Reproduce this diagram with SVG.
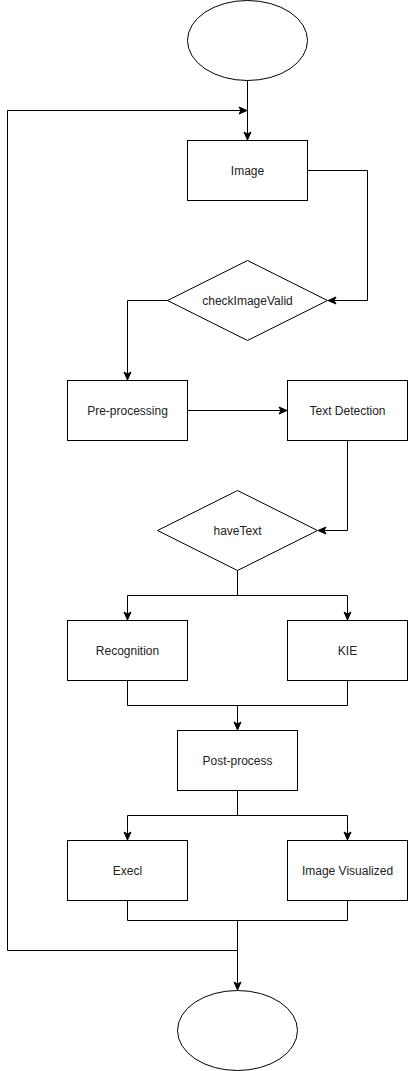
<svg xmlns="http://www.w3.org/2000/svg" width="408" height="1071" viewBox="0 0 408 1071">
<style>
.n{fill:#fff;stroke:#000;stroke-width:1}
.t{font-family:"Liberation Sans",Arial,sans-serif;font-size:12px;fill:#222;text-anchor:middle;dominant-baseline:central}
.c{fill:none;stroke:#000;stroke-width:1}
</style>
<defs>
<marker id="a" viewBox="0 0 10 10" markerWidth="10" markerHeight="10" refX="9" refY="5" orient="auto" markerUnits="userSpaceOnUse">
<path d="M1,1.5 L9,5 L1,8.5 L3,5 Z" fill="#000" stroke="#000" stroke-width="1"/>
</marker>
</defs>
<rect width="408" height="1071" fill="#fff"/>
<g id="connectors">
<path class="c" d="M247.5,80.5 V140" marker-end="url(#a)"/>
<path class="c" d="M237.5,950.5 H7.5 V110.5 H247" marker-end="url(#a)"/>
<path class="c" d="M307.5,170.5 H367.5 V300.5 H328" marker-end="url(#a)"/>
<path class="c" d="M167.5,300.5 H127.5 V380" marker-end="url(#a)"/>
<path class="c" d="M187.5,410.5 H287" marker-end="url(#a)"/>
<path class="c" d="M347.5,440.5 V530.5 H318" marker-end="url(#a)"/>
<path class="c" d="M237.5,570.5 V595.5 H127.5 V620" marker-end="url(#a)"/>
<path class="c" d="M237.5,595.5 H347.5 V620" marker-end="url(#a)"/>
<path class="c" d="M127.5,680.5 V705.5 H347.5 V680.5"/>
<path class="c" d="M237.5,705.5 V730" marker-end="url(#a)"/>
<path class="c" d="M237.5,790.5 V815.5 H127.5 V840" marker-end="url(#a)"/>
<path class="c" d="M237.5,815.5 H347.5 V840" marker-end="url(#a)"/>
<path class="c" d="M127.5,900.5 V920.5 H347.5 V900.5"/>
<path class="c" d="M237.5,920.5 V990" stroke-width="1.5" marker-end="url(#a)"/>
</g>
<g id="start"><ellipse class="n" cx="247.5" cy="40.5" rx="60" ry="40"/></g>
<g id="image"><rect class="n" x="187.5" y="140.5" width="120" height="60"/><text class="t" x="247.5" y="170.5">Image</text></g>
<g id="checkImageValid"><path class="n" d="M247.5,260.5 L327.5,300.5 L247.5,340.5 L167.5,300.5 Z"/><text class="t" x="247.5" y="300.5">checkImageValid</text></g>
<g id="preprocessing"><rect class="n" x="67.5" y="380.5" width="120" height="60"/><text class="t" x="127.5" y="410.5">Pre-processing</text></g>
<g id="textDetection"><rect class="n" x="287.5" y="380.5" width="120" height="60"/><text class="t" x="347.5" y="410.5">Text Detection</text></g>
<g id="haveText"><path class="n" d="M237.5,490.5 L317.5,530.5 L237.5,570.5 L157.5,530.5 Z"/><text class="t" x="237.5" y="530.5">haveText</text></g>
<g id="recognition"><rect class="n" x="67.5" y="620.5" width="120" height="60"/><text class="t" x="127.5" y="650.5">Recognition</text></g>
<g id="kie"><rect class="n" x="287.5" y="620.5" width="120" height="60"/><text class="t" x="347.5" y="650.5">KIE</text></g>
<g id="postprocess"><rect class="n" x="177.5" y="730.5" width="120" height="60"/><text class="t" x="237.5" y="760.5">Post-process</text></g>
<g id="execl"><rect class="n" x="67.5" y="840.5" width="120" height="60"/><text class="t" x="127.5" y="870.5">Execl</text></g>
<g id="imageVisualized"><rect class="n" x="287.5" y="840.5" width="120" height="60"/><text class="t" x="347.5" y="870.5">Image Visualized</text></g>
<g id="end"><ellipse class="n" cx="237.5" cy="1030.5" rx="60" ry="40"/></g>
</svg>
